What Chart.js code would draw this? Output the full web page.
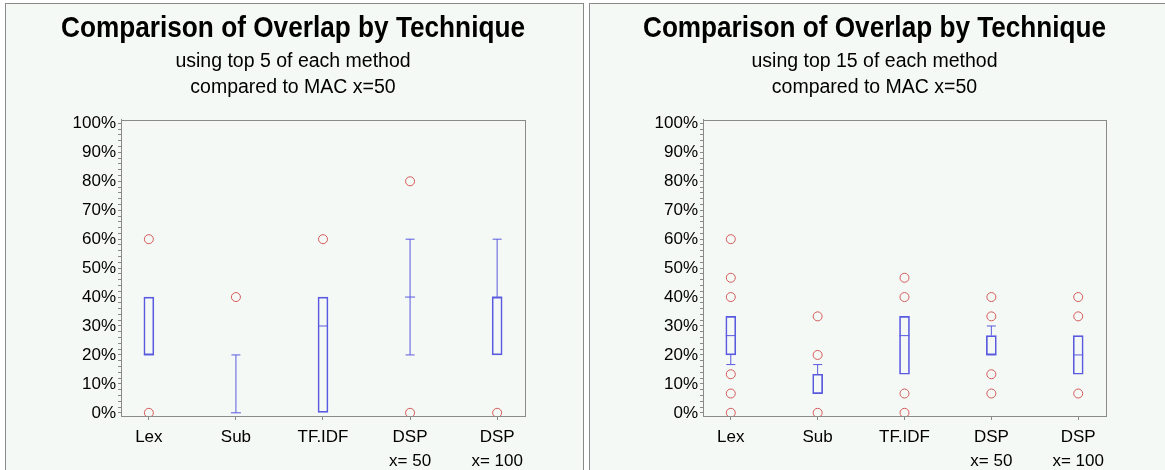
<!DOCTYPE html>
<html>
<head>
<meta charset="utf-8">
<script src="https://cdn.jsdelivr.net/npm/chart.js@4.4.1/dist/chart.umd.min.js"></script>
<style>
  body { margin: 0; background: #ffffff; width: 1165px; height: 470px; overflow: hidden; position: relative; }
  .panel { position: absolute; top: 3px; background: #f5f9f5; border: 1px solid #8a8a8a; height: 480px; }
  #panelLeft { left: 5px; width: 577px; }
  #panelRight { left: 589px; width: 590px; }
  .panel canvas { position: absolute; left: 0; top: 0; }
</style>
</head>
<body>
<div class="panel" id="panelLeft"><canvas id="chartTop5" width="577" height="466"></canvas></div>
<div class="panel" id="panelRight"><canvas id="chartTop15" width="576" height="466"></canvas></div>
<script>
// categories and y tick labels
const categories = ['Lex', 'Sub', 'TF.IDF', ['DSP', 'x= 50'], ['DSP', 'x= 100']];
const yTickValues = [0, 10, 20, 30, 40, 50, 60, 70, 80, 90, 100];

// top 5 of each method (percent)
const q1Top5 = [20, 0, 0, 40, 20];
const medTop5 = [20, 0, 30, 40, 40];
const q3Top5 = [40, 0, 40, 40, 40];
const loTop5 = [20, 0, 0, 20, 20];
const hiTop5 = [40, 20, 40, 60, 60];
const outTop5 = [[0, 60], [40], [60], [0, 80], [0]];

// top 15 of each method (percent)
const q1Top15 = [20, 6.67, 13.33, 20, 13.33];
const medTop15 = [26.67, 6.67, 26.67, 20, 20];
const q3Top15 = [33.33, 13.33, 33.33, 26.67, 26.67];
const loTop15 = [16.67, 6.67, 13.33, 20, 13.33];
const hiTop15 = [33.33, 16.67, 33.33, 30, 26.67];
const outTop15 = [[0, 6.67, 13.33, 40, 46.67, 60], [0, 20, 33.33], [0, 6.67, 40, 46.67], [6.67, 13.33, 33.33, 40], [6.67, 33.33, 40]];

const blue = '#5a5ae0';
const red = '#d45a5a';
const axisGray = '#8a8a8a';
const fontFamily = '"Liberation Sans", Arial, sans-serif';

// frame round the plot area
const framePlugin = {
  id: 'frame',
  afterDraw(chart) {
    const a = chart.chartArea;
    const ctx = chart.ctx;
    ctx.save();
    ctx.strokeStyle = axisGray;
    ctx.lineWidth = 1;
    ctx.strokeRect(Math.round(a.left) + 0.5, Math.round(a.top) + 0.5, Math.round(a.right - a.left), Math.round(a.bottom - a.top));
    ctx.restore();
  }
};

function makeChart(id, subtitleLines, q1, med, q3, lo, hi, out, padLeft, padRight) {
  const boxes = [];
  const whiskers = [];
  const caps = [];
  const medians = [];
  const outliers = [];
  categories.forEach((c, i) => {
    if (q3[i] > q1[i]) boxes.push({x: i, y: [q1[i], q3[i]]});
    if (lo[i] < q1[i]) {
      whiskers.push({x: i, y: lo[i]}, {x: i, y: q1[i]}, {x: i, y: null});
      caps.push({x: i, y: lo[i]});
    }
    if (hi[i] > q3[i]) {
      whiskers.push({x: i, y: q3[i]}, {x: i, y: hi[i]}, {x: i, y: null});
      caps.push({x: i, y: hi[i]});
    }
    medians.push({x: i, y: med[i]});
    out[i].forEach(v => outliers.push({x: i, y: v}));
  });

  new Chart(document.getElementById(id), {
    type: 'scatter',
    data: {
      datasets: [
        {
          type: 'bar',
          data: boxes,
          backgroundColor: 'rgba(0,0,0,0)',
          borderColor: blue,
          borderWidth: 1,
          borderSkipped: false,
          barThickness: 10
        },
        {
          type: 'line',
          data: whiskers,
          borderColor: blue,
          borderWidth: 1,
          pointRadius: 0,
          spanGaps: false
        },
        {
          data: caps,
          pointStyle: 'line',
          pointRadius: 4.5,
          borderColor: blue,
          borderWidth: 1
        },
        {
          data: medians,
          pointStyle: 'line',
          pointRadius: 5,
          borderColor: blue,
          borderWidth: 1
        },
        {
          data: outliers,
          pointStyle: 'circle',
          pointRadius: 4.5,
          borderColor: red,
          backgroundColor: 'rgba(0,0,0,0)',
          borderWidth: 1
        }
      ]
    },
    options: {
      responsive: false,
      animation: false,
      layout: {
        padding: {left: padLeft, right: padRight, top: 0, bottom: 0}
      },
      plugins: {
        legend: {display: false},
        tooltip: {enabled: false},
        title: {
          display: true,
          text: 'Comparison of Overlap by Technique',
          color: '#000000',
          font: {family: fontFamily, size: 30, weight: 'bold', lineHeight: 1.2},
          padding: {top: 7, bottom: 1}
        },
        subtitle: {
          display: true,
          text: subtitleLines,
          color: '#000000',
          font: {family: fontFamily, size: 19.5, lineHeight: 1.35},
          padding: {top: 0, bottom: 19}
        }
      },
      scales: {
        x: {
          type: 'linear',
          offset: false,
          min: -0.32,
          max: 4.32,
          afterBuildTicks: scale => {
            scale.ticks = categories.map((c, i) => ({value: i}));
          },
          afterFit: scale => { scale.height = 54; },
          ticks: {
            callback: v => categories[v],
            color: '#000000',
            font: {family: fontFamily, size: 17, lineHeight: 1.42},
            padding: 5,
            maxRotation: 0,
            autoSkip: false
          },
          grid: {drawOnChartArea: false, offset: false, tickLength: 4, color: axisGray},
          border: {color: axisGray}
        },
        y: {
          type: 'linear',
          min: -1.1,
          max: 101.3,
          afterBuildTicks: scale => {
            const t = [];
            for (let v = 0; v <= 100; v += 2) t.push({value: v});
            scale.ticks = t;
          },
          afterFit: scale => { scale.width = 60; },
          ticks: {
            callback: v => (yTickValues.includes(v) ? v + '%' : ''),
            color: '#000000',
            font: {family: fontFamily, size: 17},
            padding: 2,
            autoSkip: false
          },
          grid: {drawOnChartArea: false, tickLength: 3, color: axisGray},
          border: {color: axisGray}
        }
      }
    },
    plugins: [framePlugin]
  });
}

makeChart('chartTop5', ['using top 5 of each method', 'compared to MAC x=50'],
  q1Top5, medTop5, q3Top5, loTop5, hiTop5, outTop5, 55, 58);
makeChart('chartTop15', ['using top 15 of each method', 'compared to MAC x=50'],
  q1Top15, medTop15, q3Top15, loTop15, hiTop15, outTop15, 53, 60);
</script>
</body>
</html>
